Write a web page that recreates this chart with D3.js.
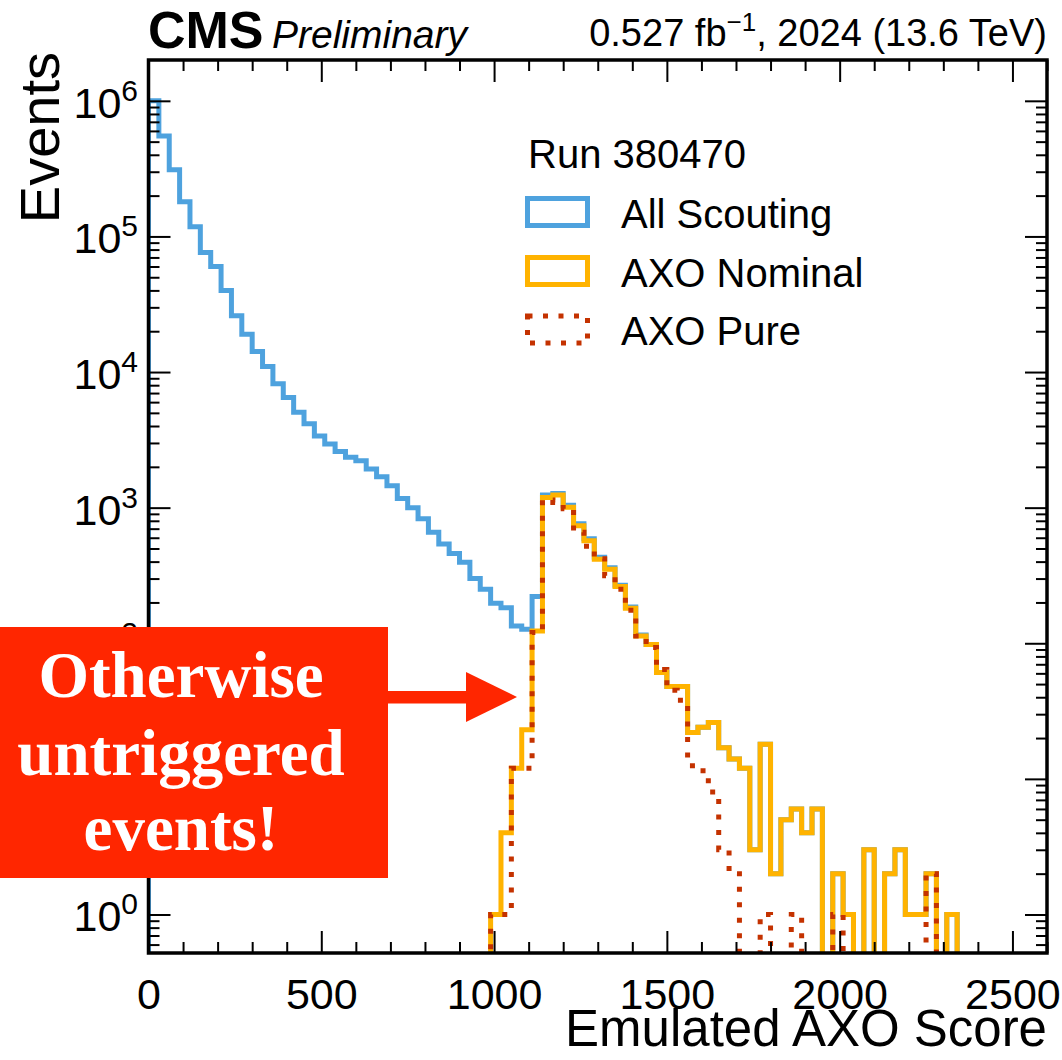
<!DOCTYPE html>
<html>
<head>
<meta charset="utf-8">
<script src="https://cdn.jsdelivr.net/npm/d3@7"></script>
<style>
  body { margin: 0; background: #fff; }
  svg { display: block; }
  text { font-family: "Liberation Sans", Arial, Helvetica, sans-serif; }
</style>
</head>
<body>
<div id="chart"></div>
<script>
// histogram bins: 30 wide, starting at 0
const binWidth = 30;

// All Scouting, bins 0..77
const allScouting = [
  1.0e6, 5.5e5, 3.1e5, 1.8e5, 1.18e5, 7.6e4, 6.0e4, 4.0e4, 2.6e4, 1.9e4,
  1.42e4, 1.1e4, 8200, 6500, 5060, 4150, 3370, 2950, 2590, 2350,
  2220, 1930, 1690, 1450, 1170, 1000, 830, 660, 540, 460,
  395, 300, 250, 197, 183, 134, 127, 221, 1240, 1270,
  1040, 760, 590, 430, 360, 268, 185, 115, 98, 61,
  48, 48, 22, 24, 26, 17, 14, 12, 3, 18,
  2, 5, 6, 4, 6, 0, 2, 1, 0, 3,
  0, 2, 3, 1, 1, 2, 0, 1
];

// AXO Nominal, from bin 33
const nominalStart = 33;
const axoNominal = [
  1, 4, 12, 23, 123, 1190, 1240, 1005, 734, 569,
  417, 352, 262, 181, 113, 98, 61, 48, 48, 22,
  24, 26, 17, 14, 12, 3, 18, 2, 5, 6,
  4, 6, 0, 2, 1, 0, 3, 0, 2, 3,
  1, 1, 2, 0, 1
];

// AXO Pure, from bin 33
const pureStart = 33;
const axoPure = [
  1, 1, 12, 12, 120, 1140, 1090, 980, 660, 520,
  420, 315, 250, 175, 113, 93, 64, 45, 38, 12.5,
  11.5, 8, 3, 2, 0, 0, 1, 0, 0, 1,
  0, 0, 0, 1, 0, 0, 0, 0, 0, 0,
  0, 0, 2, 0
];

const xTicks = [0, 500, 1000, 1500, 2000, 2500];
const yPowers = [0, 1, 2, 3, 4, 5, 6];
const legendLabels = ["All Scouting", "AXO Nominal", "AXO Pure"];
const colors = ["#4ea2de", "#ffb300", "#c43200"];

const width = 1062, height = 1060;
const x = d3.scaleLinear().domain([0, 2600]).range([148.5, 1047]);
const y = d3.scaleLog().domain([0.52, 2e6]).range([953, 60]);
const plotLeft = x(0), plotRight = x(2600), plotTop = y(2e6), plotBottom = y(0.52);

const svg = d3.select("#chart").append("svg")
  .attr("width", width).attr("height", height);

svg.append("defs").append("clipPath").attr("id", "plot")
  .append("rect")
  .attr("x", plotLeft).attr("y", plotTop)
  .attr("width", plotRight - plotLeft).attr("height", plotBottom - plotTop);

// step outline of a histogram
function stepPoints(counts, start) {
  const floor = 1e-3;
  const pts = [[start, floor]];
  counts.forEach((c, i) => {
    const v = c > 0 ? c : floor;
    pts.push([start + i, v], [start + i + 1, v]);
  });
  pts.push([start + counts.length, floor]);
  return pts;
}
const line = d3.line()
  .x(d => x(d[0] * binWidth))
  .y(d => y(d[1]));

const plot = svg.append("g").attr("clip-path", "url(#plot)");

plot.append("path")
  .attr("d", line(stepPoints(allScouting, 0)))
  .attr("fill", "none").attr("stroke", colors[0]).attr("stroke-width", 5);
plot.append("path")
  .attr("d", line(stepPoints(axoNominal, nominalStart)))
  .attr("fill", "none").attr("stroke", colors[1]).attr("stroke-width", 5);
plot.append("path")
  .attr("d", line(stepPoints(axoPure, pureStart)))
  .attr("fill", "none").attr("stroke", colors[2]).attr("stroke-width", 5)
  .attr("stroke-dasharray", "5,10.5");

// axes, ticks inside on all four sides
const xMinor = d3.range(0, 2601, 100).filter(v => v % 500 !== 0);
const yMinor = [];
for (let p = -1; p <= 6; p++) {
  for (let m = 2; m <= 9; m++) {
    const v = m * Math.pow(10, p);
    if (v > 0.52 && v < 2e6) yMinor.push(v);
  }
}
const yMajor = yPowers.map(p => Math.pow(10, p));

function styleAxis(g) {
  g.select(".domain").remove();
  g.selectAll("line").attr("stroke", "#000").attr("stroke-width", 2);
}

svg.append("g").attr("transform", `translate(0,${plotBottom})`)
  .call(d3.axisBottom(x).tickValues(xTicks).tickSize(-22).tickPadding(25).tickFormat(d3.format("d")))
  .call(styleAxis)
  .selectAll("text").attr("font-size", 43).attr("fill", "#000")
  .style("font-family", "'Liberation Sans', Arial, sans-serif");
svg.append("g").attr("transform", `translate(0,${plotBottom})`)
  .call(d3.axisBottom(x).tickValues(xMinor).tickSize(-11).tickFormat(""))
  .call(styleAxis);
svg.append("g").attr("transform", `translate(0,${plotTop})`)
  .call(d3.axisTop(x).tickValues(xTicks).tickSize(-22).tickFormat(""))
  .call(styleAxis);
svg.append("g").attr("transform", `translate(0,${plotTop})`)
  .call(d3.axisTop(x).tickValues(xMinor).tickSize(-11).tickFormat(""))
  .call(styleAxis);

svg.append("g").attr("transform", `translate(${plotLeft},0)`)
  .call(d3.axisLeft(y).tickValues(yMajor).tickSize(-22).tickFormat(""))
  .call(styleAxis);
svg.append("g").attr("transform", `translate(${plotLeft},0)`)
  .call(d3.axisLeft(y).tickValues(yMinor).tickSize(-11).tickFormat(""))
  .call(styleAxis);
svg.append("g").attr("transform", `translate(${plotRight},0)`)
  .call(d3.axisRight(y).tickValues(yMajor).tickSize(-22).tickFormat(""))
  .call(styleAxis);
svg.append("g").attr("transform", `translate(${plotRight},0)`)
  .call(d3.axisRight(y).tickValues(yMinor).tickSize(-11).tickFormat(""))
  .call(styleAxis);

// y tick labels as 10^n
yPowers.forEach(p => {
  const t = svg.append("text")
    .attr("x", 138).attr("y", y(Math.pow(10, p)) + 17)
    .attr("text-anchor", "end").attr("font-size", 43).attr("fill", "#000");
  t.append("tspan").text("10");
  t.append("tspan").attr("dy", -17).attr("font-size", 30).text(p);
});

// frame
svg.append("rect")
  .attr("x", plotLeft).attr("y", plotTop)
  .attr("width", plotRight - plotLeft).attr("height", plotBottom - plotTop)
  .attr("fill", "none").attr("stroke", "#000").attr("stroke-width", 3.5);

// axis titles
svg.append("text")
  .attr("transform", "translate(59,52) rotate(-90)")
  .attr("text-anchor", "end").attr("font-size", 56).text("Events");
svg.append("text")
  .attr("x", plotRight).attr("y", 1046)
  .attr("text-anchor", "end").attr("font-size", 51).text("Emulated AXO Score");

// CMS header
svg.append("text").attr("x", 148).attr("y", 48)
  .attr("font-size", 52).attr("font-weight", "bold").text("CMS");
svg.append("text").attr("x", 272).attr("y", 48)
  .attr("font-size", 39).attr("font-style", "italic").text("Preliminary");
const lumi = svg.append("text").attr("x", plotRight).attr("y", 46)
  .attr("text-anchor", "end").attr("font-size", 38);
lumi.append("tspan").text("0.527 fb");
lumi.append("tspan").attr("dy", -15).attr("font-size", 26).text("\u22121");
lumi.append("tspan").attr("dy", 15).text(", 2024 (13.6 TeV)");

// legend
svg.append("text").attr("x", 528).attr("y", 168)
  .attr("font-size", 40).text("Run 380470");
const legendY = [198.5, 257.5, 316];
legendLabels.forEach((lab, i) => {
  const r = svg.append("rect")
    .attr("x", 527.5).attr("y", legendY[i])
    .attr("width", 60).attr("height", 27)
    .attr("fill", "none").attr("stroke", colors[i]).attr("stroke-width", 5);
  if (i === 2) r.attr("stroke-dasharray", "5,10.5");
  svg.append("text").attr("x", 621).attr("y", legendY[i] + 29)
    .attr("font-size", 40).text(lab);
});

// annotation
svg.append("rect")
  .attr("x", 0).attr("y", 627).attr("width", 388).attr("height", 251)
  .attr("fill", "#ff2600");
svg.append("rect")
  .attr("x", 386).attr("y", 691).attr("width", 82).attr("height", 12.5)
  .attr("fill", "#ff2600");
svg.append("path")
  .attr("d", "M466,672 L517,697 L466,722 Z")
  .attr("fill", "#ff2600");
const note = ["Otherwise", "untriggered", "events!"];
const noteY = [697, 775, 850];
note.forEach((s, i) => {
  svg.append("text")
    .attr("x", 181).attr("y", noteY[i])
    .attr("text-anchor", "middle").attr("font-size", 65).attr("font-weight", "bold")
    .attr("fill", "#fff")
    .style("font-family", "'Liberation Serif', 'DejaVu Serif', serif")
    .text(s);
});
</script>
</body>
</html>
